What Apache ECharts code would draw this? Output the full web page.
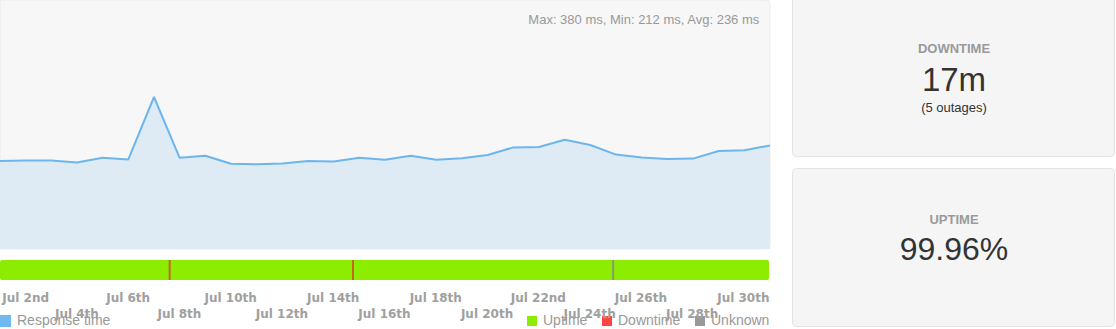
<!DOCTYPE html>
<html>
<head>
<meta charset="utf-8">
<script src="https://cdn.jsdelivr.net/npm/echarts@6/dist/echarts.min.js"></script>
<style>
  html, body { margin: 0; padding: 0; background: #ffffff; }
  #chart { width: 1116px; height: 329px; }
</style>
</head>
<body>
<div id="chart"></div>
<script>
// ---- data ----
const dayLabels = ['Jul 1st','Jul 2nd','Jul 3rd','Jul 4th','Jul 5th','Jul 6th','Jul 7th','Jul 8th','Jul 9th','Jul 10th',
  'Jul 11th','Jul 12th','Jul 13th','Jul 14th','Jul 15th','Jul 16th','Jul 17th','Jul 18th','Jul 19th','Jul 20th',
  'Jul 21st','Jul 22nd','Jul 23rd','Jul 24th','Jul 25th','Jul 26th','Jul 27th','Jul 28th','Jul 29th','Jul 30th','Jul 31st'];
const responseMs = [220, 221, 221, 216, 228, 224, 380, 228, 233, 213,
  212, 214, 220, 219, 228, 223, 233, 223, 227, 235,
  254, 255, 273, 260, 236, 229, 225, 226, 245, 247, 259];
// status periods, in days since Jul 1st 00:00
const uptimePeriod = [0, 30];
const downtimeAt = [6.62, 13.77];
const unknownAt = [23.92];
const statsText = 'Max: 380 ms, Min: 212 ms, Avg: 236 ms';
const downtimeText = '17m';
const outagesText = '(5 outages)';
const uptimeText = '99.96%';

const C_LINE = '#6cb6ec', C_FILL = '#deebf5', C_UP = '#8ced00', C_DOWN = '#ff4444', C_UNK = '#999999';

const statusData = [[uptimePeriod[0], uptimePeriod[1], 0]]
  .concat(downtimeAt.map(d => [d, d, 1]))
  .concat(unknownAt.map(d => [d, d, 2]));
const statusColors = [C_UP, '#c8641e', '#8a9a6a'];

const chart = echarts.init(document.getElementById('chart'), null, { renderer: 'svg' });

const legendText = { fill: '#999', font: '14px "Liberation Sans", Arial, sans-serif', textVerticalAlign: 'middle' };

chart.setOption({
  animation: false,
  grid: [
    { left: 0, top: 1, width: 770, height: 248, outerBoundsMode: 'none', containLabel: false },
    { left: 0, top: 260, width: 769, height: 20, outerBoundsMode: 'none', containLabel: false }
  ],
  xAxis: [
    { gridIndex: 0, type: 'value', min: 0, max: 30, show: false },
    { gridIndex: 1, type: 'value', min: 0, max: 30, interval: 1,
      axisLine: { show: false }, axisTick: { show: false }, splitLine: { show: false },
      axisLabel: {
        show: true, margin: 10, color: '#a0a0a0', fontSize: 12, fontWeight: 'bold',
        fontFamily: '"DejaVu Sans", Verdana, sans-serif', lineHeight: 16,
        showMinLabel: true, showMaxLabel: true, hideOverlap: false,
        formatter: v => {
          const i = Math.round(v);
          if (i % 2 !== 1) return '';
          return (i % 4 === 1) ? dayLabels[i] : '\n' + dayLabels[i];
        }
      }
    }
  ],
  yAxis: [
    { gridIndex: 0, type: 'value', min: 0, max: 620, show: false },
    { gridIndex: 1, type: 'value', min: 0, max: 1, show: false }
  ],
  graphic: [
    { type: 'rect', z: -10, silent: true, shape: { x: 0, y: 0, width: 770, height: 249, r: [0, 4, 4, 0] },
      style: { fill: '#f7f7f7', stroke: '#ececec', lineWidth: 1 } },
    { type: 'text', z: 10, right: 356, top: 13, style: { text: statsText, fill: '#999', font: '13px "Liberation Sans", Arial, sans-serif' } },
    // right panels
    { type: 'rect', z: -10, silent: true, shape: { x: 792.5, y: -4.5, width: 322, height: 161, r: 4 },
      style: { fill: '#f5f5f5', stroke: '#e3e3e3', lineWidth: 1 } },
    { type: 'rect', z: -10, silent: true, shape: { x: 792.5, y: 168.5, width: 322, height: 158, r: 4 },
      style: { fill: '#f5f5f5', stroke: '#e3e3e3', lineWidth: 1 } },
    { type: 'text', x: 954, y: 48, style: { text: 'DOWNTIME', fill: '#9a9a9a', font: 'bold 13px "Liberation Sans", Arial, sans-serif', textAlign: 'center', textVerticalAlign: 'middle' } },
    { type: 'text', x: 954, y: 79, style: { text: downtimeText, fill: '#333', font: '33px "Liberation Sans", Arial, sans-serif', textAlign: 'center', textVerticalAlign: 'middle' } },
    { type: 'text', x: 954, y: 107, style: { text: outagesText, fill: '#333', font: '13px "Liberation Sans", Arial, sans-serif', textAlign: 'center', textVerticalAlign: 'middle' } },
    { type: 'text', x: 954, y: 219, style: { text: 'UPTIME', fill: '#9a9a9a', font: 'bold 13px "Liberation Sans", Arial, sans-serif', textAlign: 'center', textVerticalAlign: 'middle' } },
    { type: 'text', x: 954, y: 249, style: { text: uptimeText, fill: '#333', font: '32px "Liberation Sans", Arial, sans-serif', textAlign: 'center', textVerticalAlign: 'middle' } },
    // legends
    { type: 'rect', shape: { x: 0, y: 315, width: 11, height: 12 }, style: { fill: '#6fb9f0' } },
    { type: 'text', x: 17, y: 320, style: Object.assign({ text: 'Response time' }, legendText) },
    { type: 'rect', shape: { x: 527, y: 316, width: 10, height: 10 }, style: { fill: C_UP } },
    { type: 'text', x: 543, y: 320, style: Object.assign({ text: 'Uptime' }, legendText) },
    { type: 'rect', shape: { x: 602, y: 316, width: 10, height: 10 }, style: { fill: C_DOWN } },
    { type: 'text', x: 618, y: 320, style: Object.assign({ text: 'Downtime' }, legendText) },
    { type: 'rect', shape: { x: 695, y: 316, width: 10, height: 10 }, style: { fill: C_UNK } },
    { type: 'text', x: 711, y: 320, style: Object.assign({ text: 'Unknown' }, legendText) }
  ],
  series: [
    {
      type: 'line', xAxisIndex: 0, yAxisIndex: 0,
      data: responseMs.map((v, i) => [i, v]),
      symbol: 'none', smooth: false,
      lineStyle: { color: C_LINE, width: 2 },
      areaStyle: { color: C_FILL, opacity: 1 }
    },
    {
      type: 'custom', xAxisIndex: 1, yAxisIndex: 1,
      data: statusData,
      renderItem: (params, api) => {
        const s = api.coord([api.value(0), 1]);
        const e = api.coord([api.value(1), 0]);
        const kind = api.value(2);
        let x = s[0], w = e[0] - s[0];
        if (kind !== 0) { w = 2; x = s[0] - 1; }
        return {
          type: 'rect',
          shape: { x: x, y: s[1], width: w, height: e[1] - s[1], r: kind === 0 ? 2 : 0 },
          style: { fill: statusColors[kind] }
        };
      }
    }
  ]
});
</script>
</body>
</html>
